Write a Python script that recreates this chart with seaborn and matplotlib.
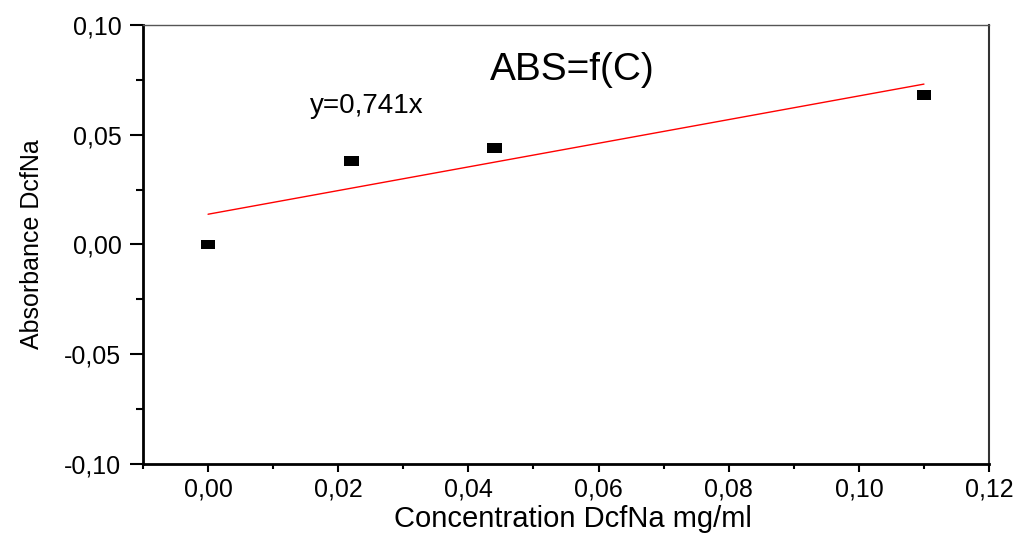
import numpy as np
import pandas as pd
import matplotlib
matplotlib.use("Agg")
import matplotlib.pyplot as plt
from matplotlib.ticker import MultipleLocator, FuncFormatter
import seaborn as sns

# Calibration data
concentration = [0.000, 0.022, 0.044, 0.110]
absorbance = [0.000, 0.038, 0.044, 0.068]

df = pd.DataFrame({"C": concentration, "ABS": absorbance})

sns.set_style("ticks")
plt.rcParams['font.family'] = ['Liberation Sans', 'DejaVu Sans']
plt.rcParams['text.color'] = 'black'
plt.rcParams['axes.labelcolor'] = 'black'
plt.rcParams['xtick.color'] = 'black'
plt.rcParams['ytick.color'] = 'black'

fig = plt.figure(figsize=(10.19, 5.34), dpi=100)
ax = fig.add_axes([0.1403, 0.1311, 0.8303, 0.8221])

# Wide black rectangles as markers
rect = [(-1, -0.64), (1, -0.64), (1, 0.64), (-1, 0.64), (-1, -0.64)]
sns.scatterplot(data=df, x="C", y="ABS", marker=rect, s=115, color="black",
                edgecolor="none", ax=ax, zorder=3)

# Least squares line over the data range
sns.regplot(data=df, x="C", y="ABS", ci=None, scatter=False, truncate=True,
            line_kws={"color": "red", "linewidth": 1}, ax=ax)

ax.set_xlim(-0.01, 0.12)
ax.set_ylim(-0.10, 0.10)

comma = FuncFormatter(lambda v, p: f"{v:.2f}".replace(".", ","))
ax.xaxis.set_major_locator(MultipleLocator(0.02))
ax.xaxis.set_minor_locator(MultipleLocator(0.01))
ax.yaxis.set_major_locator(MultipleLocator(0.05))
ax.yaxis.set_minor_locator(MultipleLocator(0.025))
ax.xaxis.set_major_formatter(comma)
ax.yaxis.set_major_formatter(comma)

ax.tick_params(axis='x', which='major', length=6, width=1.5, pad=4, labelsize=18, direction='out')
ax.tick_params(axis='x', which='minor', length=3.5, width=1.5, direction='out')
ax.tick_params(axis='y', which='major', length=9.5, width=1.5, pad=6, labelsize=18, direction='out')
ax.tick_params(axis='y', which='minor', length=5, width=1.5, direction='out')

for side in ['left', 'bottom']:
    ax.spines[side].set_linewidth(2)
    ax.spines[side].set_color('black')
ax.spines['top'].set_visible(True)
ax.spines['right'].set_visible(True)
ax.spines['top'].set_linewidth(1)
ax.spines['top'].set_color('#555555')
ax.spines['right'].set_linewidth(1.5)
ax.spines['right'].set_color('#333333')

ax.set_xlabel("Concentration DcfNa mg/ml", fontsize=21)
ax.set_ylabel("Absorbance DcfNa", fontsize=18)
ax.xaxis.set_label_coords(0.508, -0.094)
ax.yaxis.set_label_coords(-0.117, 0.5)

ax.text(0.508, 0.897, "ABS=f(C)", transform=ax.transAxes, fontsize=28,
        ha='center', va='center')
ax.text(0.265, 0.815, "y=0,741x", transform=ax.transAxes, fontsize=20,
        ha='center', va='center')

plt.savefig("out.png", dpi=100)
